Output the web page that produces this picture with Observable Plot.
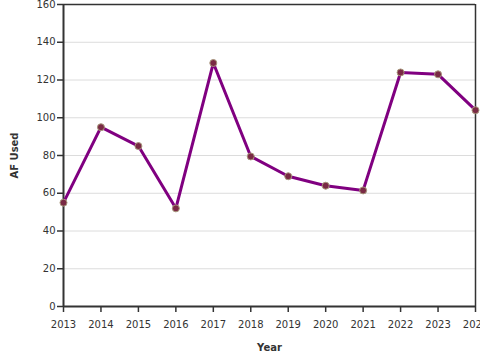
<!DOCTYPE html>
<html>
<head>
<meta charset="utf-8">
<script src="https://cdn.jsdelivr.net/npm/d3@7"></script>
<script src="https://cdn.jsdelivr.net/npm/@observablehq/plot@0.6"></script>
<style>
  html, body { margin: 0; padding: 0; background: #fff; overflow: hidden; }
  g[aria-label="x-axis label"] text, g[aria-label="y-axis label"] text { font-weight: bold; }
</style>
</head>
<body>
<div id="chart"></div>
<script>
const years = [2013, 2014, 2015, 2016, 2017, 2018, 2019, 2020, 2021, 2022, 2023, 2024];
const afUsed = [55, 95, 85, 52, 129, 79.5, 69, 64, 61.5, 124, 123, 104];
const yTicks = [0, 20, 40, 60, 80, 100, 120, 140, 160];

const data = years.map((y, i) => ({year: y, af: afUsed[i]}));

const chart = Plot.plot({
  width: 480,
  height: 360,
  marginLeft: 63,
  marginRight: 5,
  marginTop: 4,
  marginBottom: 54,
  style: {fontFamily: "DejaVu Sans, sans-serif", fontSize: "10px", color: "#333", background: "#fff"},
  x: {domain: [2013, 2024], ticks: years, tickFormat: "d"},
  y: {domain: [0, 160], ticks: yTicks},
  marks: [
    Plot.gridY(yTicks, {stroke: "#dcdcdc", strokeOpacity: 1}),
    Plot.ruleY([160], {stroke: "#333", strokeWidth: 1.5}),
    Plot.ruleX([2024], {stroke: "#333", strokeWidth: 1.5}),
    Plot.axisY(yTicks, {tickSize: 6, tickPadding: 2, stroke: "#333", strokeWidth: 1.5,
      label: "AF Used", labelAnchor: "center", labelArrow: false, labelOffset: 53, fontSize: 10}),
    Plot.axisX(years, {tickSize: 6, tickPadding: 8, tickFormat: "d", stroke: "#333", strokeWidth: 1.5,
      label: "Year", labelAnchor: "center", labelArrow: false, labelOffset: 44}),
    Plot.ruleY([0], {stroke: "#333", strokeWidth: 2}),
    Plot.ruleX([2013], {stroke: "#333", strokeWidth: 2}),
    Plot.line(data, {x: "year", y: "af", stroke: "#800080", strokeWidth: 3}),
    Plot.dot(data, {x: "year", y: "af", r: 3.5, fill: "#7a2a45", stroke: "#a8987c", strokeWidth: 1})
  ]
});
document.getElementById("chart").append(chart);
</script>
</body>
</html>
